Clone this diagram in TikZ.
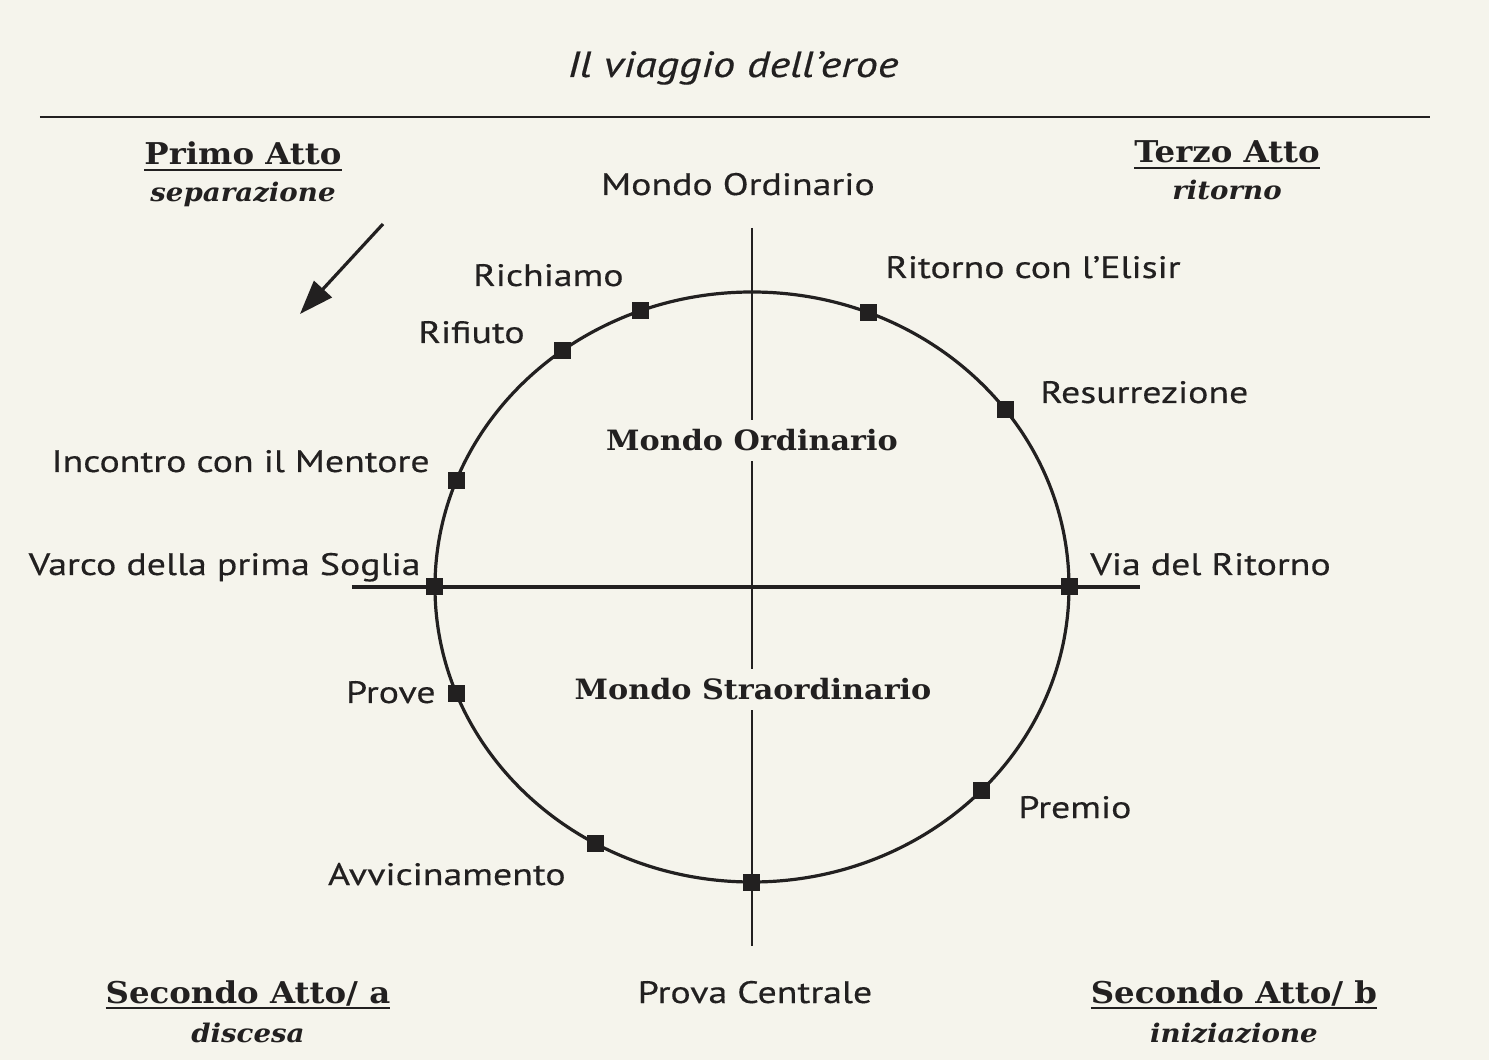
\documentclass[tikz,border=0pt]{standalone}
\usepackage{fontspec}
\setmainfont{PT Sans}[FakeStretch=1.22, FakeBold=0.4]
\newfontfamily\headfont{DejaVu Serif}[FakeStretch=1.08]
\usepackage{tikz}
\usetikzlibrary{arrows.meta, positioning}
\definecolor{paper}{RGB}{245,244,236}
\definecolor{ink}{RGB}{34,32,32}
\newcommand\actul[1]{\setbox0\hbox{#1}\rlap{\rule[-3.2pt]{\wd0}{1.3pt}}\box0}

\begin{document}
\begin{tikzpicture}[
    x=0.5pt, y=0.5pt,
    stage/.style={fill=ink, draw=none, minimum size=8.5pt, inner sep=0pt},
    lbl/.style={text=ink, inner sep=0pt, font=\fontsize{15.5}{17}\selectfont},
    world/.style={text=ink, fill=paper, inner xsep=3pt, inner ysep=5pt, font=\headfont\bfseries\fontsize{14}{16}\selectfont},
    act/.style={text=ink, inner sep=0pt, font=\headfont\bfseries\fontsize{15}{17}\selectfont},
    actsub/.style={act, font=\headfont\bfseries\itshape\fontsize{12.8}{14}\selectfont},
    axis/.style={draw=ink, line width=1.3pt},
]

    % Page
    \fill[paper] (-752,-473) rectangle (737,587);
    \useasboundingbox (-752,-473) rectangle (737,587);

    % Title and rule
    \node[text=ink, anchor=base, font=\itshape\fontsize{18.2}{20}\selectfont] (title) at (-19,510) {Il viaggio dell'eroe};
    \coordinate (ruleL) at (-712,470);
    \coordinate (ruleR) at (678,470);
    \draw[ink, line width=1pt] (ruleL) -- (ruleR);

    % Axes
    \coordinate (ntop) at (0,359);
    \coordinate (nbot) at (0,-359);
    \coordinate (wend) at (-400,0);
    \coordinate (eend) at (388,0);
    \draw[axis] (ntop) -- (nbot);
    \draw[axis, line width=2pt] (wend) -- (eend);

    % Circle of the journey
    \draw[ink, line width=1.6pt] (0,0) ellipse [x radius=317, y radius=295];

    % Stages
    \node[stage] (ric)    at (110.6:317 and 295) {};
    \node[stage] (rif)    at (126.8:317 and 295) {};
    \node[stage] (ment)   at (158.8:317 and 295) {};
    \node[stage] (varco)  at (180:317 and 295) {};
    \node[stage] (prove)  at (201.1:317 and 295) {};
    \node[stage] (avv)    at (240.4:317 and 295) {};
    \node[stage] (prova)  at (270:317 and 295) {};
    \node[stage] (premio) at (316.5:317 and 295) {};
    \node[stage] (viar)   at (0:317 and 295) {};
    \node[stage] (resur)  at (37:317 and 295) {};
    \node[stage] (elisir) at (68.4:317 and 295) {};

    % Stage labels
    \node[lbl, anchor=base] (ordtop) at (-14,392) {Mondo Ordinario};
    \node[lbl, anchor=base east] at (-128,301) {Richiamo};
    \node[lbl, anchor=base east] at (-227,244) {Rifiuto};
    \node[lbl, anchor=base east] at (-322,115) {Incontro con il Mentore};
    \node[lbl, anchor=base east] at (-331,12) {Varco della prima Soglia};
    \node[lbl, anchor=base east] at (-316,-116) {Prove};
    \node[lbl, anchor=base east] at (-186,-298) {Avvicinamento};
    \node[lbl, anchor=base] at (3,-416) {Prova Centrale};
    \node[lbl, anchor=base west] at (266,-231) {Premio};
    \node[lbl, anchor=base west] at (338,12) {Via del Ritorno};
    \node[lbl, anchor=base west] at (288,184) {Resurrezione};
    \node[lbl, anchor=base west] at (133,309) {Ritorno con l'Elisir};

    % Worlds
    \node[world, anchor=base] (ord) at (0,136) {Mondo Ordinario};
    \node[world, anchor=base] (straord) at (1,-113) {Mondo Straordinario};

    % Acts
    \node[act, anchor=base] (primo) at (-509,422) {\actul{Primo Atto}};
    \node[actsub, anchor=base] at ([yshift=-18.5pt]primo.base) {separazione};
    \node[act, anchor=base] (terzo) at (475,424) {\actul{Terzo Atto}};
    \node[actsub, anchor=base] at ([yshift=-18.5pt]terzo.base) {ritorno};
    \node[act, anchor=base] (secA) at (-504,-416) {\actul{Secondo Atto/ a}};
    \node[actsub, anchor=base] at ([yshift=-19.5pt]secA.base) {discesa};
    \node[act, anchor=base] (secB) at (482,-416) {\actul{Secondo Atto/ b}};
    \node[actsub, anchor=base] at ([yshift=-19.5pt]secB.base) {iniziazione};

    % Arrow into the journey
    \coordinate (arrtail) at (-369,363);
    \coordinate (arrtip) at (-452,273);
    \draw[ink, line width=1.6pt, -{Triangle[length=17pt, width=12pt]}] (arrtail) -- (arrtip);
\end{tikzpicture}
\end{document}
